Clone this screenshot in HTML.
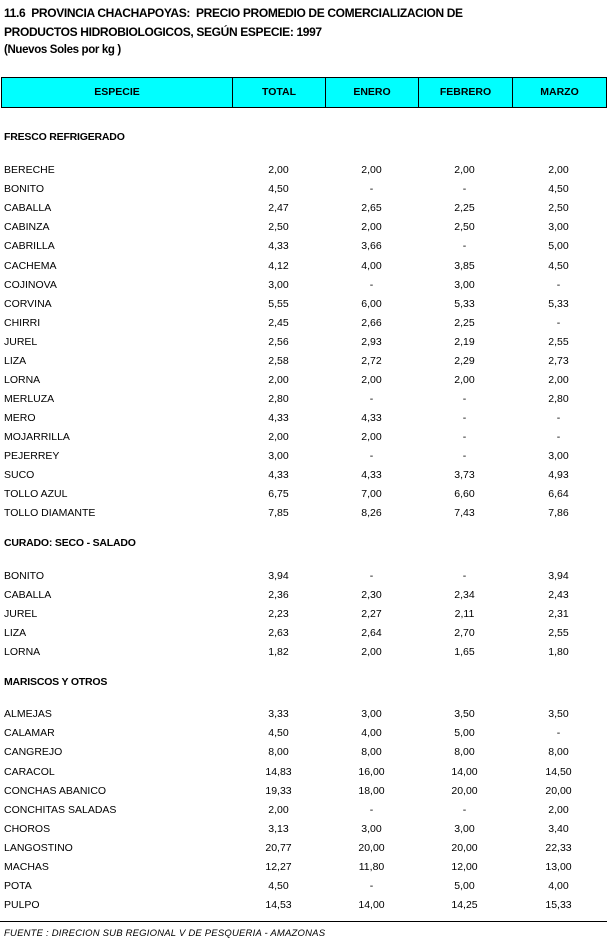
<!DOCTYPE html>
<html><head><meta charset="utf-8"><style>
body{margin:0;width:607px;height:943px;background:#fff;position:relative;font-family:"Liberation Sans",Arial,sans-serif;color:#000;overflow:hidden}
.t{position:absolute;left:4px;font-weight:bold;font-size:12px;letter-spacing:-0.35px;white-space:nowrap}
.hdr{position:absolute;left:1px;top:77px;width:604px;height:29px;background:#00ffff;border:1px solid #000}
.hdr div{position:absolute;top:0;height:29px;line-height:29px;text-align:center;font-weight:bold;font-size:10.5px;border-left:1px solid #000}
.r{position:absolute;left:0;width:607px;height:14px;line-height:14px;font-size:10.5px;white-space:nowrap}
.r span{position:absolute;top:0;text-align:center;width:93px}
.r span:first-child{left:4px;text-align:left;width:200px}
.r span:nth-child(2){left:232px}
.r span:nth-child(3){left:325px}
.r span:nth-child(4){left:418px}
.r span:nth-child(5){left:512px}
.s{position:absolute;left:4px;font-weight:bold;font-size:10.5px;letter-spacing:-0.2px}
</style></head><body>
<div class="t" style="top:6px">11.6&nbsp; PROVINCIA CHACHAPOYAS:&nbsp; PRECIO PROMEDIO DE COMERCIALIZACION DE</div>
<div class="t" style="top:25px">PRODUCTOS HIDROBIOLOGICOS, SEGÚN ESPECIE: 1997</div>
<div class="t" style="top:44px;font-size:11.5px">(Nuevos Soles por kg )</div>
<div class="hdr">
<div style="left:0;width:230px;border-left:none">ESPECIE</div>
<div style="left:230px;width:92px">TOTAL</div>
<div style="left:323px;width:92px">ENERO</div>
<div style="left:416px;width:93px">FEBRERO</div>
<div style="left:510px;width:93px">MARZO</div>
</div>
<div class="s" style="top:131px">FRESCO REFRIGERADO</div>
<div class="r" style="top:163px"><span>BERECHE</span><span>2,00</span><span>2,00</span><span>2,00</span><span>2,00</span></div>
<div class="r" style="top:182px"><span>BONITO</span><span>4,50</span><span>-</span><span>-</span><span>4,50</span></div>
<div class="r" style="top:201px"><span>CABALLA</span><span>2,47</span><span>2,65</span><span>2,25</span><span>2,50</span></div>
<div class="r" style="top:220px"><span>CABINZA</span><span>2,50</span><span>2,00</span><span>2,50</span><span>3,00</span></div>
<div class="r" style="top:239px"><span>CABRILLA</span><span>4,33</span><span>3,66</span><span>-</span><span>5,00</span></div>
<div class="r" style="top:259px"><span>CACHEMA</span><span>4,12</span><span>4,00</span><span>3,85</span><span>4,50</span></div>
<div class="r" style="top:278px"><span>COJINOVA</span><span>3,00</span><span>-</span><span>3,00</span><span>-</span></div>
<div class="r" style="top:297px"><span>CORVINA</span><span>5,55</span><span>6,00</span><span>5,33</span><span>5,33</span></div>
<div class="r" style="top:316px"><span>CHIRRI</span><span>2,45</span><span>2,66</span><span>2,25</span><span>-</span></div>
<div class="r" style="top:335px"><span>JUREL</span><span>2,56</span><span>2,93</span><span>2,19</span><span>2,55</span></div>
<div class="r" style="top:354px"><span>LIZA</span><span>2,58</span><span>2,72</span><span>2,29</span><span>2,73</span></div>
<div class="r" style="top:373px"><span>LORNA</span><span>2,00</span><span>2,00</span><span>2,00</span><span>2,00</span></div>
<div class="r" style="top:392px"><span>MERLUZA</span><span>2,80</span><span>-</span><span>-</span><span>2,80</span></div>
<div class="r" style="top:411px"><span>MERO</span><span>4,33</span><span>4,33</span><span>-</span><span>-</span></div>
<div class="r" style="top:430px"><span>MOJARRILLA</span><span>2,00</span><span>2,00</span><span>-</span><span>-</span></div>
<div class="r" style="top:449px"><span>PEJERREY</span><span>3,00</span><span>-</span><span>-</span><span>3,00</span></div>
<div class="r" style="top:468px"><span>SUCO</span><span>4,33</span><span>4,33</span><span>3,73</span><span>4,93</span></div>
<div class="r" style="top:487px"><span>TOLLO AZUL</span><span>6,75</span><span>7,00</span><span>6,60</span><span>6,64</span></div>
<div class="r" style="top:506px"><span>TOLLO DIAMANTE</span><span>7,85</span><span>8,26</span><span>7,43</span><span>7,86</span></div>
<div class="s" style="top:537px">CURADO: SECO - SALADO</div>
<div class="r" style="top:569px"><span>BONITO</span><span>3,94</span><span>-</span><span>-</span><span>3,94</span></div>
<div class="r" style="top:588px"><span>CABALLA</span><span>2,36</span><span>2,30</span><span>2,34</span><span>2,43</span></div>
<div class="r" style="top:607px"><span>JUREL</span><span>2,23</span><span>2,27</span><span>2,11</span><span>2,31</span></div>
<div class="r" style="top:626px"><span>LIZA</span><span>2,63</span><span>2,64</span><span>2,70</span><span>2,55</span></div>
<div class="r" style="top:645px"><span>LORNA</span><span>1,82</span><span>2,00</span><span>1,65</span><span>1,80</span></div>
<div class="s" style="top:676px">MARISCOS Y OTROS</div>
<div class="r" style="top:707px"><span>ALMEJAS</span><span>3,33</span><span>3,00</span><span>3,50</span><span>3,50</span></div>
<div class="r" style="top:726px"><span>CALAMAR</span><span>4,50</span><span>4,00</span><span>5,00</span><span>-</span></div>
<div class="r" style="top:745px"><span>CANGREJO</span><span>8,00</span><span>8,00</span><span>8,00</span><span>8,00</span></div>
<div class="r" style="top:765px"><span>CARACOL</span><span>14,83</span><span>16,00</span><span>14,00</span><span>14,50</span></div>
<div class="r" style="top:784px"><span>CONCHAS ABANICO</span><span>19,33</span><span>18,00</span><span>20,00</span><span>20,00</span></div>
<div class="r" style="top:803px"><span>CONCHITAS SALADAS</span><span>2,00</span><span>-</span><span>-</span><span>2,00</span></div>
<div class="r" style="top:822px"><span>CHOROS</span><span>3,13</span><span>3,00</span><span>3,00</span><span>3,40</span></div>
<div class="r" style="top:841px"><span>LANGOSTINO</span><span>20,77</span><span>20,00</span><span>20,00</span><span>22,33</span></div>
<div class="r" style="top:860px"><span>MACHAS</span><span>12,27</span><span>11,80</span><span>12,00</span><span>13,00</span></div>
<div class="r" style="top:879px"><span>POTA</span><span>4,50</span><span>-</span><span>5,00</span><span>4,00</span></div>
<div class="r" style="top:898px"><span>PULPO</span><span>14,53</span><span>14,00</span><span>14,25</span><span>15,33</span></div>
<div style="position:absolute;left:0;top:921px;width:607px;height:1px;background:#000"></div>
<div style="position:absolute;left:4px;top:928px;font-size:9.5px;font-style:italic;letter-spacing:0.2px">FUENTE : DIRECION SUB REGIONAL V DE PESQUERIA - AMAZONAS</div>
</body></html>
